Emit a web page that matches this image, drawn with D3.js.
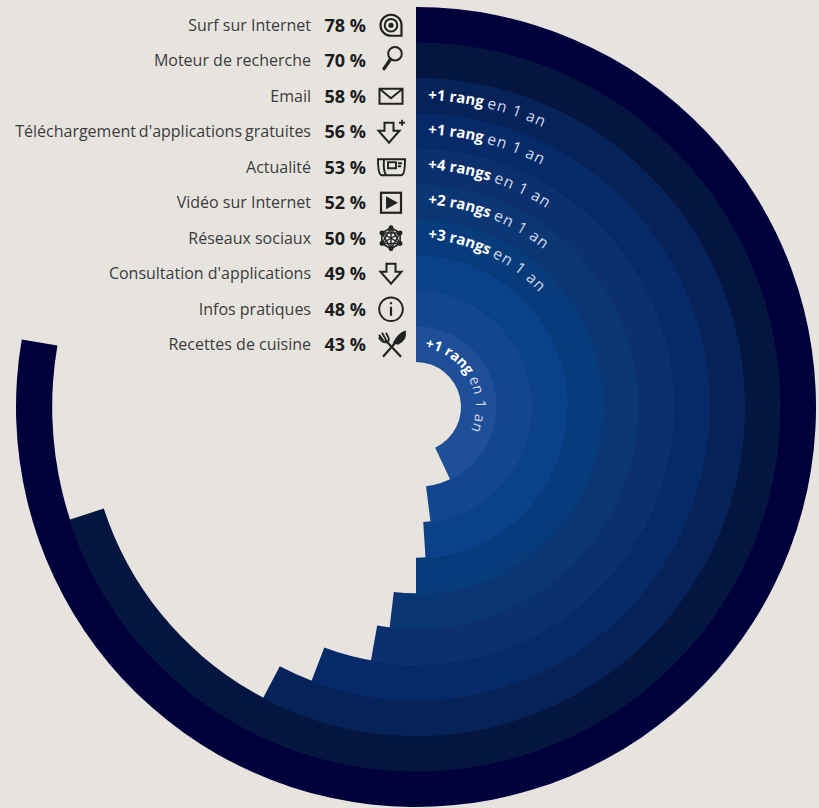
<!DOCTYPE html>
<html><head><meta charset="utf-8">
<script src="https://cdn.jsdelivr.net/npm/d3@7"></script>
<style>html,body{margin:0;background:#e7e4e0}svg{display:block}</style></head>
<body><svg id="c" width="819" height="808"></svg>
<script>
const categories=["Surf sur Internet","Moteur de recherche","Email","Téléchargement d'applications gratuites","Actualité","Vidéo sur Internet","Réseaux sociaux","Consultation d'applications","Infos pratiques","Recettes de cuisine"];
const values=[78,70,58,56,53,52,50,49,48,43];
const drawnValues=[77.7,70,57.7,55.8,52.8,51.9,50,49,48,43];
const rankBold=[null,null,"+1 rang","+1 rang","+4 rangs","+2 rangs","+3 rangs",null,null,"+1 rang"];
const rankTail="en 1 an";
const ringColors=["#00003a","#04163f","#052259","#062a68","#0c2f6e","#0a3674","#063c7c","#0a4188","#12468f","#1f4f98"];
const icons=["at","search","mail","dlplus","news","play","net","dl","info","food"];

const W=819,H=808,cx=416,cy=407,R=400,r0=45;
const svg=d3.select("#c");
const band=d3.scaleBand().domain(d3.range(categories.length)).range([R,r0]);
const angle=d3.scaleLinear().domain([0,100]).range([0,2*Math.PI]);
const arc=d3.arc();
const g=svg.append("g").attr("transform",`translate(${cx},${cy})`);
const ro=i=>band(i)+band.bandwidth(), ri=i=>band(i);
g.append("g").style("filter","blur(0.5px)").selectAll("path.ring").data(drawnValues).join("path").attr("class","ring")
 .attr("fill",(d,i)=>ringColors[i])
 .attr("d",(d,i)=>arc({innerRadius:ri(i)-(i<9?0.7:0),outerRadius:ro(i),startAngle:0,endAngle:angle(d)}));

const defs=svg.append("defs");
const lift=[0,0,4,3,2.5,2,1,0,0,3];
values.forEach((d,i)=>{ if(!rankBold[i])return;
  const rm=ri(i)+band.bandwidth()/2-lift[i];
  const p=d3.path(); p.arc(0,0,rm,-Math.PI/2,Math.PI*0.3);
  defs.append("path").attr("id","tp"+i).attr("d",p.toString());
  const t=g.append("text").attr("fill","#fff").attr("font-family","'Open Sans',sans-serif").attr("font-size",i==9?14:15);
  const tp=t.append("textPath").attr("href","#tp"+i).attr("startOffset",i==9?9:12);
  tp.append("tspan").attr("font-weight",700).text(rankBold[i]+" ");
  tp.append("tspan").attr("font-weight",400).attr("fill","#d3dbea").attr("font-size",i==9?14.5:15.5).attr("letter-spacing",i==9?0.6:1).text(rankTail);
});

const rows=svg.append("g");
const rowY=i=>cy-(ri(i)+band.bandwidth()/2)+0.5;
categories.forEach((c,i)=>{
  const y=rowY(i);
  rows.append("text").attr("x",311).attr("y",y).attr("dy","0.35em").attr("text-anchor","end")
    .attr("font-family","'Open Sans',sans-serif").attr("fill","#3c3c3c").attr("font-size",16)
    .attr("word-spacing",i==3?-1.2:0).text(c);
  rows.append("text").attr("x",366).attr("y",y).attr("dy","0.35em").attr("text-anchor","end")
    .attr("font-family","'Open Sans',sans-serif").attr("font-weight",700).attr("fill","#1c1c1c").attr("font-size",18).text(values[i]+" %");
  const ic=rows.append("g").attr("transform",`translate(391,${y})`).attr("fill","none").attr("stroke","#222").attr("stroke-width",1.9);
  drawIcon(ic,icons[i]);
});
function drawIcon(s,k){
  const P=d=>s.append("path").attr("d",d);
  if(k=="at"){P("M0-10.5A10.5 10.5 0 1 0 0 10.5H10.5V0A10.5 10.5 0 0 0 0-10.5Z").attr("stroke-width",2.2);s.append("circle").attr("r",6.3).attr("stroke-width",2);s.append("circle").attr("r",2.6).attr("fill","#222").attr("stroke","none");}
  if(k=="search"){s.append("circle").attr("cx",4).attr("cy",-7).attr("r",6.8).attr("stroke-width",2);P("M-0.5-1.5L-7 8").attr("stroke-width",3.2).attr("stroke-linecap","round");}
  if(k=="mail"){s.append("rect").attr("x",-11.5).attr("y",-7.5).attr("width",23).attr("height",15).attr("stroke-width",2);P("M-11-7L0 2L11-7").attr("stroke-width",2);}
  if(k=="dl"||k=="dlplus"){P("M-4.5-10H4.5V-2H10.5L0 10L-10.5-2H-4.5Z").attr("stroke-width",2);if(k=="dlplus"){s.select("path").attr("transform","translate(-2,1)");P("M8-9H14M11-12V-6").attr("stroke-width",1.8);}}
  if(k=="news"){P("M-13-8H14Q14 8 10 8H-9Q-13 8-13-8Z");P("M-7-8Q-8 3-5 8");s.append("rect").attr("x",-3).attr("y",-5).attr("width",8).attr("height",6);P("M7-4H11M7-1H10");}
  if(k=="play"){s.append("rect").attr("x",-10).attr("y",-10).attr("width",20).attr("height",20).attr("stroke-width",2.2);P("M-4-5L5 0L-4 5Z").attr("fill","#222");}
  if(k=="net"){const a=d3.range(6).map(i=>i*Math.PI/3),n=a.map(t=>[10.5*Math.sin(t),10.5*Math.cos(t)]);
    P("M"+n.join("L")+"Z").attr("stroke-width",1.6);
    P(a.slice(0,3).map((t,j)=>`M${n[j]}L${n[j+3]}`).join("")).attr("stroke-width",1.4);
    P(`M${n[0]}L${n[2]}L${n[4]}ZM${n[1]}L${n[3]}L${n[5]}Z`).attr("stroke-width",1.4);
    n.forEach(q=>s.append("circle").attr("cx",q[0]).attr("cy",q[1]).attr("r",2.4).attr("fill","#222").attr("stroke","none"));}
  if(k=="info"){s.append("circle").attr("r",11.8);P("M0-2.5V6.5").attr("stroke-width",2.2);P("M0-7V-5").attr("stroke-width",2.2);}
  if(k=="food"){P("M-8 12L7-5").attr("stroke-width",2.2);P("M3-2Q8-11 14-13Q15-5 7-1Z").attr("fill","#222");
    P("M10 12L-6-5").attr("stroke-width",2.2);P("M-12-7Q-8-1-3-3L-2-6").attr("stroke-width",2);P("M-12-7L-10-9M-7.5-4L-12-10M-5-5L-9-12M-2-6L-5-12").attr("stroke-width",1.8);}
}
</script></body></html>
